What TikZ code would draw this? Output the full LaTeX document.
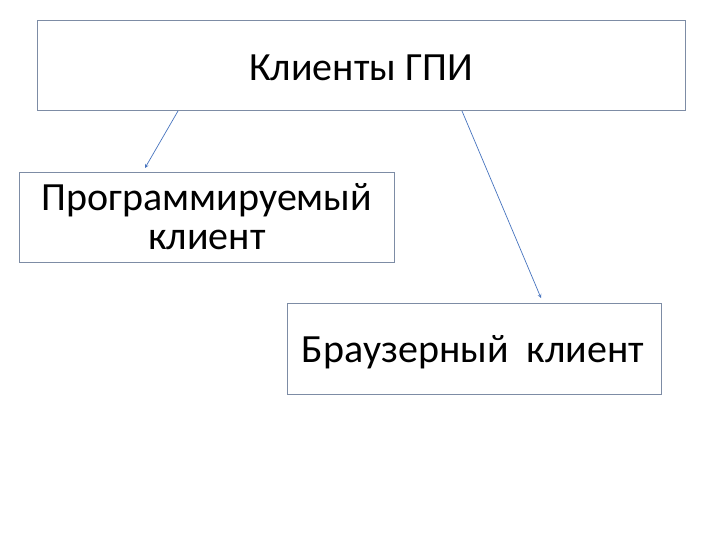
\documentclass[tikz,border=0pt]{standalone}
\usepackage{fontspec}
\setmainfont{Carlito}
\definecolor{bordc}{RGB}{125,140,165}
\definecolor{arrc}{RGB}{70,115,190}
\begin{document}
\begin{tikzpicture}[x=1pt,y=-1pt,
  box/.style={draw=bordc,line width=0.7pt,inner sep=0pt},
  lbl/.style={font=\fontsize{40}{43}\selectfont,align=center},
  arr/.style={draw=arrc,line width=0.7pt,-stealth}]
\useasboundingbox (0,0) rectangle (720,540);
\draw[box] (37,20) rectangle (685,110);
\node[lbl] (t) at (361,68) {Клиенты ГПИ};
\draw[box] (19,172) rectangle (394,262);
\node[lbl] (p) at (207,217) {Программируемый\\[-4pt]клиент};
\draw[box] (287,303) rectangle (661,394);
\node[lbl] (b) at (473,352) {Браузерный\ \ клиент};
\coordinate (a1) at (178,111); \coordinate (a2) at (145,168);
\coordinate (b1) at (462,111); \coordinate (b2) at (541,298);
\draw[arr] (a1) -- (a2);
\draw[arr] (b1) -- (b2);
\end{tikzpicture}
\end{document}
